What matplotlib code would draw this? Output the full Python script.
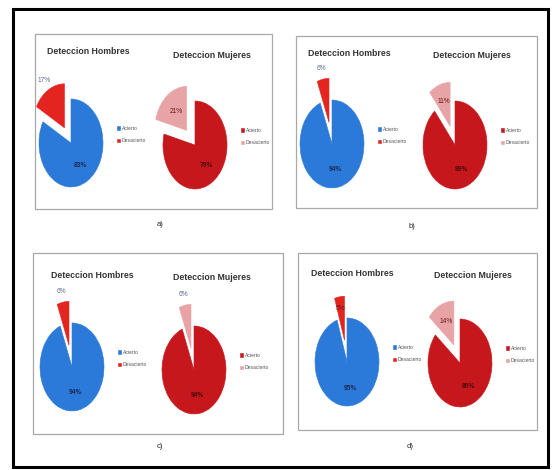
import matplotlib
matplotlib.use("Agg")
import numpy as np
import matplotlib.pyplot as plt
from matplotlib.patches import Rectangle

plt.rcParams['font.family'] = ['Liberation Sans', 'DejaVu Sans']

# Detection results per panel (percent)
panel_labels = ["a)", "b)", "c)", "d)"]
categories = ["Acierto", "Desacierto"]
hombres_acierto = [83, 94, 94, 95]
hombres_desacierto = [17, 6, 6, 5]
mujeres_acierto = [79, 89, 94, 86]
mujeres_desacierto = [21, 11, 6, 14]
titles = ["Deteccion Hombres", "Deteccion Mujeres"]

W, H = 553, 470
fig = plt.figure(figsize=(W / 100, H / 100), dpi=100)
fig.patch.set_facecolor("white")


def fx(x):
    return x / W


def fy(y):
    return 1 - y / H


# outer frame
fig.patches.append(Rectangle((fx(13), fy(467)), fx(548) - fx(13), fy(9) - fy(467),
                             transform=fig.transFigure, fill=False,
                             edgecolor="black", lw=2.2))

# panel boxes (left, top, right, bottom) in pixels
boxes = [(35, 34, 272, 209), (296, 36, 537, 208),
         (33, 253, 283, 434), (298, 253, 537, 430)]
letter_pos = [(160, 224), (412, 227), (160, 446), (410, 446)]
# pie centres (hombres, mujeres) and title positions
pie_centres = [((71, 143), (195, 145)), ((332, 144), (455, 145)),
               ((72, 367), (194, 370)), ((347, 362), (460, 363))]
title_pos = [((88, 52), (212, 55)), ((349, 53), (472, 55)),
             ((92, 275), (212, 277)), ((352, 274), (473, 275))]
# distance of the small-slice label from its apex (outside > 1, inside < 1)
small_label_dist = [(1.25, 0.55), (1.25, 0.6),
                    (1.25, 1.25), (0.72, 0.6)]
# how far the small slice is pulled out of each pie
explode_amount = [(0.4, 0.42), (0.5, 0.45), (0.5, 0.5), (0.5, 0.45)]

RX, RY = 32, 44
K = 1.6

hombres_colors = ["#2b79d8", "#e3241f"]
mujeres_colors = ["#c5171c", "#e8a3a6"]

for i in range(4):
    l, t, r, b = boxes[i]
    fig.patches.append(Rectangle((fx(l), fy(b)), fx(r) - fx(l), fy(t) - fy(b),
                                 transform=fig.transFigure, fill=False,
                                 edgecolor="#a8a8a8", lw=0.9))
    fig.text(fx(letter_pos[i][0]), fy(letter_pos[i][1]), panel_labels[i],
             fontsize=5.5, ha="center", va="center", color="#222222")

    series = [([hombres_acierto[i], hombres_desacierto[i]], hombres_colors),
              ([mujeres_acierto[i], mujeres_desacierto[i]], mujeres_colors)]
    for j, (vals, cols) in enumerate(series):
        cx, cy = pie_centres[i][j]
        ex = explode_amount[i][j]
        aw, ah = 2 * K * RX, 2 * K * RY
        ax = fig.add_axes([fx(cx - aw / 2), fy(cy + ah / 2), aw / W, ah / H])
        wedges, _ = ax.pie(vals, colors=cols, startangle=90, counterclock=False,
                           explode=[0, ex], radius=1,
                           wedgeprops=dict(linewidth=0.4))
        for w, c in zip(wedges, cols):
            w.set_edgecolor(c)
        ax.set_xlim(-K, K)
        ax.set_ylim(-K, K)
        ax.set_aspect("auto")
        ax.axis("off")

        # main slice label
        w0 = wedges[0]
        mid0 = np.deg2rad((w0.theta1 + w0.theta2) / 2)
        ax.text(0.6 * np.cos(mid0), 0.6 * np.sin(mid0), f"{vals[0]}%",
                fontsize=4.8, fontweight="bold", ha="center", va="center",
                color="#1d2a52" if j == 0 else "#4a0a0a")
        # small slice label
        w1 = wedges[1]
        mid1 = np.deg2rad((w1.theta1 + w1.theta2) / 2)
        d = small_label_dist[i][j]
        ox, oy = ex * np.cos(mid1), ex * np.sin(mid1)
        lx, ly = ox + d * np.cos(mid1), oy + d * np.sin(mid1)
        ax.text(lx, ly, f"{vals[1]}%", fontsize=4.8, ha="center", va="center",
                color="#5a6a8a" if d > 1 else "#6a1a1a")

        # legend to the right of each pie
        leg = ax.legend(wedges, categories, loc="center left",
                        bbox_to_anchor=(0.93, 0.56), frameon=False,
                        fontsize=3.6, handlelength=0.6, handleheight=0.6,
                        handletextpad=0.3, labelspacing=1.5, borderaxespad=0)
        for txt in leg.get_texts():
            txt.set_color("#555555")

        tx, ty = title_pos[i][j]
        fig.text(fx(tx), fy(ty), titles[j], fontsize=6.3, fontweight="bold",
                 ha="center", va="center", color="#333333")

fig.savefig("out.png", dpi=100, facecolor="white")
